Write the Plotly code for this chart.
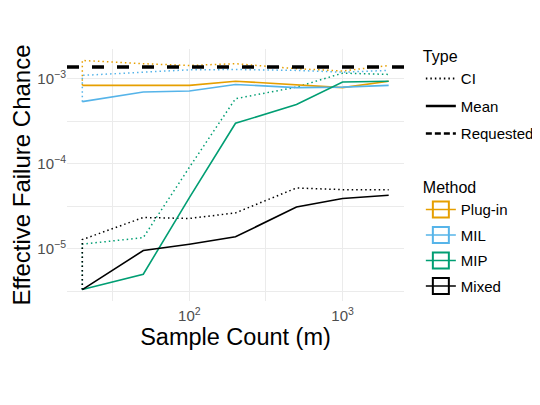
import numpy as np
import plotly.graph_objects as go

# sample counts (m)
m = [20, 50, 100, 200, 500, 1000, 2000]

# mean / CI effective failure chance per method
plugin_mean = [8.4e-4, 8.4e-4, 8.4e-4, 9.4e-4, 8.6e-4, 7.9e-4, 9.4e-4]
plugin_ci = [1.65e-3, 1.51e-3, 1.44e-3, 1.51e-3, 1.32e-3, 1.24e-3, 1.44e-3]
mil_mean = [5.4e-4, 7.0e-4, 7.2e-4, 8.6e-4, 7.9e-4, 8.0e-4, 8.4e-4]
mil_ci = [1.10e-3, 1.20e-3, 1.28e-3, 1.29e-3, 1.26e-3, 1.20e-3, 1.26e-3]
mip_mean = [3.3e-6, 5.0e-6, 4.0e-5, 3.0e-4, 5.0e-4, 9.2e-4, 9.4e-4]
mip_ci = [1.13e-5, 1.35e-5, 9.1e-5, 5.85e-4, 8.0e-4, 1.17e-3, 1.13e-3]
mixed_mean = [3.3e-6, 9.5e-6, 1.13e-5, 1.38e-5, 3.1e-5, 3.9e-5, 4.26e-5]
mixed_ci = [1.28e-5, 2.33e-5, 2.27e-5, 2.64e-5, 5.19e-5, 4.96e-5, 4.96e-5]
requested = 1.38e-3

methods = ["Plug-in", "MIL", "MIP", "Mixed"]
colors = ["#E69F00", "#56B4E9", "#009E73", "#000000"]
means = [plugin_mean, mil_mean, mip_mean, mixed_mean]
cis = [plugin_ci, mil_ci, mip_ci, mixed_ci]

FONT = "Liberation Sans, Arial, sans-serif"
DOT = "1.5px,3px"

fig = go.Figure()

# CI lines (start at mean for first m, as in original)
for name, col, mn, ci in zip(methods, colors, means, cis):
    fig.add_trace(go.Scatter(x=[m[0]] + m, y=[mn[0]] + ci, mode="lines",
                             line=dict(color=col, width=1.5, dash=DOT),
                             showlegend=False, hoverinfo="skip"))
for name, col, mn in zip(methods, colors, means):
    fig.add_trace(go.Scatter(x=m, y=mn, mode="lines",
                             line=dict(color=col, width=1.6),
                             showlegend=False, name=name))

fig.add_hline(y=requested, line=dict(color="black", width=3.5, dash="12px,13px"))

# legend: Type
for lbl, dash, w in [("CI", DOT, 1.8), ("Mean", "solid", 2.5), ("Requested", "6px,3px", 2.5)]:
    fig.add_trace(go.Scatter(x=[None], y=[None], mode="lines", name=lbl,
                             line=dict(color="black", width=w, dash=dash),
                             legend="legend", legendgroup=lbl))
# legend: Method (box + line key like ggplot)
for name, col in zip(methods, colors):
    fig.add_trace(go.Scatter(x=[None], y=[None], mode="lines+markers", name=name,
                             line=dict(color=col, width=1.6),
                             marker=dict(symbol="square-open", size=20, color=col,
                                         line=dict(width=2, color=col)),
                             legend="legend2", legendgroup=name))

# axis ranges: log data range + 5% padding (ggplot style)
lx = np.log10(m)
ally = np.log10(np.concatenate([np.concatenate(means), np.concatenate(cis)]))
pad_x = 0.05 * (lx.max() - lx.min())
pad_y = 0.05 * (ally.max() - ally.min())

grid = "#EBEBEB"
fig.update_xaxes(type="log", range=[lx.min() - pad_x, lx.max() + pad_x], automargin=False,
                 tickvals=[100, 1000], ticktext=["10<sup>2</sup>", "10<sup>3</sup>"],
                 showgrid=True, gridcolor=grid, gridwidth=1.4, zeroline=False,
                 showline=False, ticks="", ticklen=0, ticklabelstandoff=4,
                 minor=dict(tickvals=[10 ** 1.5, 10 ** 2.5, 10 ** 3.5], showgrid=True,
                            gridcolor=grid, gridwidth=1.2, ticks=""),
                 tickfont=dict(size=15, color="#4D4D4D", family=FONT),
                 title=dict(text="Sample Count (m)", standoff=0,
                            font=dict(size=23.5, color="black", family=FONT)))
fig.update_yaxes(type="log", range=[ally.min() - pad_y, ally.max() + pad_y], automargin=True,
                 tickvals=[1e-5, 1e-4, 1e-3],
                 ticktext=["10<sup>−5</sup>", "10<sup>−4</sup>", "10<sup>−3</sup>"],
                 showgrid=True, gridcolor=grid, gridwidth=1.4, zeroline=False,
                 showline=False, ticks="", ticklen=0,
                 minor=dict(tickvals=[10 ** -5.5, 10 ** -4.5, 10 ** -3.5], showgrid=True,
                            gridcolor=grid, gridwidth=1.2, ticks=""),
                 tickfont=dict(size=15, color="#4D4D4D", family=FONT),
                 title=dict(text="Effective Failure Chance", standoff=10,
                            font=dict(size=24, color="black", family=FONT)))

# page body has an 8px margin, so the figure is drawn 8px smaller
fig.update_layout(
    width=532, height=397,
    margin=dict(l=59, r=136, t=41, b=104, autoexpand=False),
    plot_bgcolor="white", paper_bgcolor="white",
    font=dict(family=FONT),
    legend=dict(x=1.05, y=1.03, xanchor="left", yanchor="top",
                title=dict(text="Type", font=dict(size=16, color="black")),
                font=dict(size=15, color="black"), itemwidth=30,
                tracegroupgap=5, bgcolor="rgba(0,0,0,0)"),
    legend2=dict(x=1.05, y=0.51, xanchor="left", yanchor="top",
                 title=dict(text="Method", font=dict(size=16, color="black")),
                 font=dict(size=15, color="black"), itemwidth=30,
                 tracegroupgap=3, bgcolor="rgba(0,0,0,0)"),
)

fig.write_html("out.html")
